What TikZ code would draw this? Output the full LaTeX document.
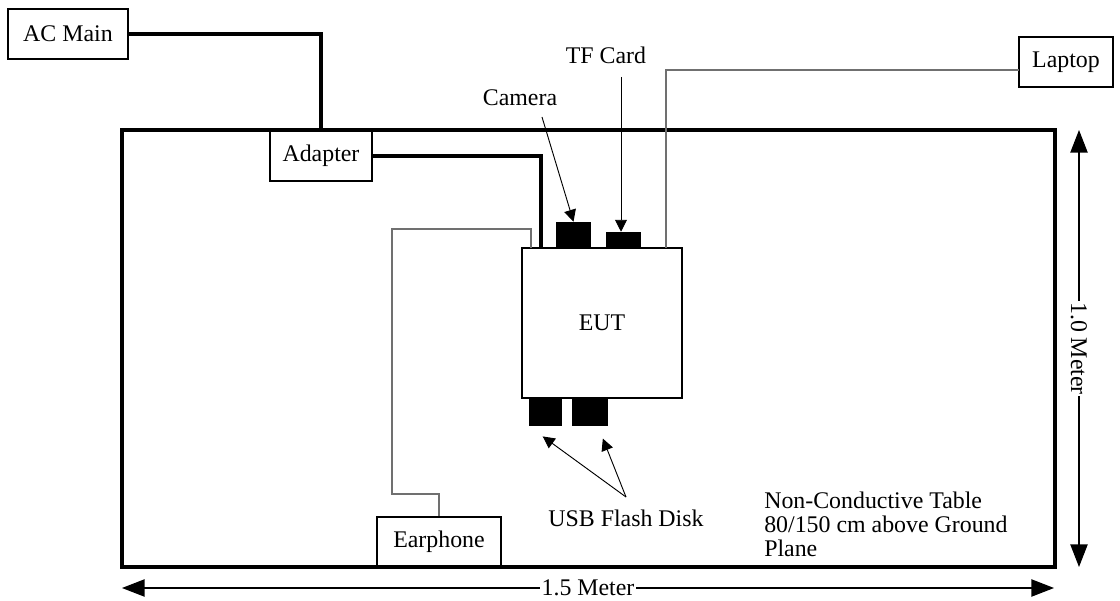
\documentclass[tikz,border=0pt]{standalone}
\usepackage{fontspec}
\setmainfont{Liberation Serif}
\usetikzlibrary{arrows.meta}
\definecolor{cablegray}{HTML}{707070}

\begin{document}
\begin{tikzpicture}[x=0.0265cm,y=-0.0265cm,
    sz/.style 2 args={minimum width=#1*0.0265cm,minimum height=#2*0.0265cm},
    box/.style={draw,line width=0.9pt,inner sep=0pt,font=\fontsize{18}{18}\selectfont},
    port/.style={fill=black,inner sep=0pt},
    lbl/.style={inner sep=0pt,font=\fontsize{18}{18}\selectfont},
    power/.style={line width=2.4pt},
    cable/.style={cablegray,line width=0.8pt},
    ptr/.style={-{Triangle[length=9pt,width=9pt]},line width=0.7pt},
    dim/.style={{Triangle[length=17pt,width=13pt]}-{Triangle[length=17pt,width=13pt]},line width=0.9pt}]
  \useasboundingbox (0,0) rectangle (1120,601);
  % table
  \draw[line width=2.4pt] (122,130) rectangle (1055,567);
  \node[box,sz={120}{50}] (acmain)   at (68,34)   {AC Main};
  \node[box,sz={102}{50}] (adapter)  at (321,156) {Adapter};
  \node[box,sz={160}{150}] (eut)     at (602,323) {EUT};
  \node[box,sz={94}{50}]  (laptop)   at (1066,62) {Laptop};
  \node[box,sz={124}{50}] (earphone) at (439,542) {Earphone};
  % ports on the EUT
  \node[port,sz={35}{26}] (cam)  at (573.5,235) {};
  \node[port,sz={35}{16}] (tf)   at (623.5,240) {};
  \node[port,sz={33}{29}] (usba) at (545.5,411.5) {};
  \node[port,sz={36}{29}] (usbb) at (590,411.5) {};
  \coordinate (pwrin) at (541,248);  \coordinate (earin) at (531,248);
  \coordinate (lanin) at (666,248);  \coordinate (lapin) at (1019,70);
  % cables
  \draw[power] (acmain.east) -| (adapter.north);
  \draw[power] (adapter.east) -| (pwrin);
  \draw[cable] (lanin) |- (lapin);
  \draw[cable] (earin) -- ++(0,-19) -| (392,494) -| (earphone.north);
  % labels
  \node[lbl] (camlbl) at (520,98)  {Camera};
  \node[lbl] (tflbl)  at (606,55)  {TF Card};
  \node[lbl] (usblbl) at (626,518) {USB Flash Disk};
  \node[lbl,anchor=north west,align=left] (note) at (764,492)
    {Non-Conductive Table\\80/150 cm above Ground\\Plane};
  \coordinate (campt) at (542,117);
  \coordinate (tfpt)  at (621,77);
  \coordinate (usbpt) at (626,497);
  \draw[ptr] (campt) -- (cam.north);
  \draw[ptr] (tfpt) -- (tfpt |- tf.north);
  \draw[ptr,shorten >=13pt] (usbpt) -- (usba.south west);
  \draw[ptr,shorten >=10pt] (usbpt) -- ([xshift=6pt]usbb.south);
  % dimensions
  \coordinate (wl) at (122,588);  \coordinate (wr) at (1054,588);
  \coordinate (ht) at (1079,130); \coordinate (hb) at (1079,567);
  \draw[dim] (wl) -- node[lbl,fill=white,inner sep=1pt] (wlbl) {1.5 Meter} (wr);
  \draw[dim] (ht) -- node[lbl,fill=white,inner sep=1pt,rotate=-90] (hlbl) {1.0 Meter} (hb);
\end{tikzpicture}
\end{document}
